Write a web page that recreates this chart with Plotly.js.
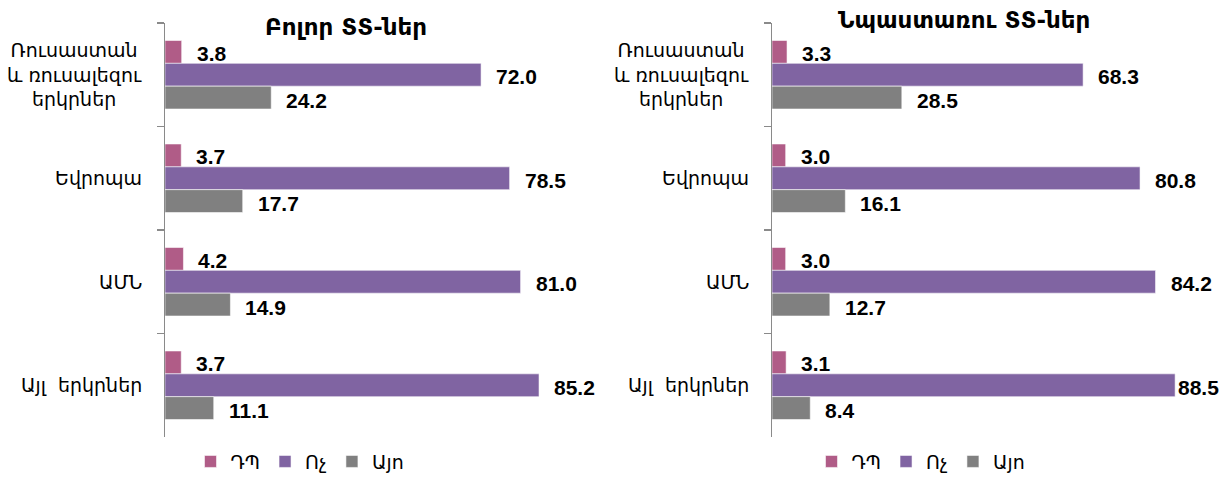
<!DOCTYPE html>
<html>
<head>
<meta charset="utf-8">
<script src="https://cdn.plot.ly/plotly-3.0.1.min.js"></script>
<style>html,body{margin:0;padding:0;background:#fff}#chart{width:1228px;height:481px}</style>
</head>
<body>
<div id="chart"></div>
<script>
// ---- data ----
const categories = ['Ռուսաստան<br>և ռուսալեզու<br>երկրներ', 'Եվրոպա', 'ԱՄՆ', 'Այլ  երկրներ'];
const seriesNames = ['ԴՊ', 'Ոչ', 'Այո'];
const panelTitles = ['Բոլոր ՏՏ-ներ', 'Նպաստառու ՏՏ-ներ'];
// Left panel: all households
const dpAll  = [3.8, 3.7, 4.2, 3.7];
const noAll  = [72.0, 78.5, 81.0, 85.2];
const yesAll = [24.2, 17.7, 14.9, 11.1];
// Right panel: beneficiary households
const dpBen  = [3.3, 3.0, 3.0, 3.1];
const noBen  = [68.3, 80.8, 84.2, 88.5];
const yesBen = [28.5, 16.1, 12.7, 8.4];

// ---- styling / layout ----
const W = 1228, H = 481;
const colors = ['#B05C87', '#8064A2', '#808080'];
const mT = 23, mB = 35;
const plotH = H - mT - mB;
const bargap = 0.338;
const bandPx = plotH / categories.length;
const barPx = bandPx * (1 - bargap) / 3;
const domains = [[165 / W, 604 / W], [772 / W, 1227.5 / W]];
const xRange = [0, 100];
const catFont = {family: 'DejaVu Sans, Noto Sans, sans-serif', size: 19, color: '#000'};
const valFont = {family: 'Liberation Sans, Arial, sans-serif', size: 21, color: '#000', weight: 'bold'};
const titleFont = {family: 'DejaVu Sans, sans-serif', size: 23, color: '#000', weight: 'bold'};

const panels = [
  {vals: [dpAll, noAll, yesAll], xa: 'x', ya: 'y', lg: 'legend'},
  {vals: [dpBen, noBen, yesBen], xa: 'x2', ya: 'y2', lg: 'legend2'}
];

const traces = [];
const annotations = [];
panels.forEach((p, pi) => {
  p.vals.forEach((v, k) => {
    traces.push({
      type: 'bar', orientation: 'h', name: seriesNames[k],
      x: v, y: categories, xaxis: p.xa, yaxis: p.ya, legend: p.lg,
      marker: {color: colors[k], line: {color: 'rgba(255,255,255,0.55)', width: 1}},
      hoverinfo: 'x+name'
    });
    // value labels
    v.forEach((val, i) => {
      const txt = val.toFixed(1);
      const d = domains[pi];
      const endPx = d[0] * W + (val - xRange[0]) / (xRange[1] - xRange[0]) * (d[1] - d[0]) * W;
      const estW = txt.length * 0.56 * valFont.size;
      const shift = 13;
      const yshift = (1 - k) * barPx - 2;
      if (endPx + shift + estW > W - 4) {
        annotations.push({xref: 'paper', x: 1 - 7 / W, xanchor: 'right', yref: p.ya, y: categories[i],
          yshift: yshift, text: txt, showarrow: false, font: valFont});
      } else {
        annotations.push({xref: p.xa, x: val, xanchor: 'left', xshift: shift, yref: p.ya, y: categories[i],
          yshift: yshift, text: txt, showarrow: false, font: valFont});
      }
    });
  });
  // category labels
  categories.forEach((c) => {
    annotations.push({xref: 'paper', x: domains[pi][0], xanchor: 'right', xshift: -21,
      yref: p.ya, y: c, text: c, align: 'center', showarrow: false, font: catFont});
  });
});
// panel titles
annotations.push({xref: 'paper', x: 346 / W, xanchor: 'center', yref: 'paper', y: (H - mB - 27) / plotH, yanchor: 'middle',
  text: panelTitles[0], showarrow: false, font: titleFont});
annotations.push({xref: 'paper', x: 964 / W, xanchor: 'center', yref: 'paper', y: (H - mB - 20) / plotH, yanchor: 'middle',
  text: panelTitles[1], showarrow: false, font: titleFont});

const yAxisBase = {
  type: 'category', autorange: 'reversed', tickson: 'boundaries', ticks: 'outside', ticklen: 7,
  tickcolor: '#8a8a8a', tickwidth: 1.5, showline: true, linecolor: '#8a8a8a', linewidth: 1.5,
  showticklabels: false, showgrid: false, zeroline: false, fixedrange: true
};
const xAxisBase = {range: xRange, visible: false, showgrid: false, zeroline: false, fixedrange: true};
const legFont = {family: 'DejaVu Sans, Noto Sans, sans-serif', size: 19, color: '#000'};

const layout = {
  width: W, height: H,
  margin: {l: 0, r: 0, t: mT, b: mB},
  paper_bgcolor: '#fff', plot_bgcolor: 'rgba(0,0,0,0)',
  barmode: 'group', bargap: bargap, bargroupgap: 0,
  xaxis: Object.assign({}, xAxisBase, {domain: domains[0], anchor: 'y'}),
  yaxis: Object.assign({}, yAxisBase, {anchor: 'x'}),
  xaxis2: Object.assign({}, xAxisBase, {domain: domains[1], anchor: 'y2'}),
  yaxis2: Object.assign({}, yAxisBase, {anchor: 'x2'}),
  legend: {orientation: 'h', x: 300 / W, xanchor: 'center', y: (446 - 469) / plotH - 0.005, yanchor: 'middle',
    font: legFont, traceorder: 'normal', bgcolor: 'rgba(0,0,0,0)'},
  legend2: {orientation: 'h', x: 921 / W, xanchor: 'center', y: (446 - 469) / plotH - 0.005, yanchor: 'middle',
    font: legFont, traceorder: 'normal', bgcolor: 'rgba(0,0,0,0)'},
  annotations: annotations,
  showlegend: true
};

Plotly.newPlot('chart', traces, layout, {displayModeBar: false, staticPlot: true});
</script>
</body>
</html>
